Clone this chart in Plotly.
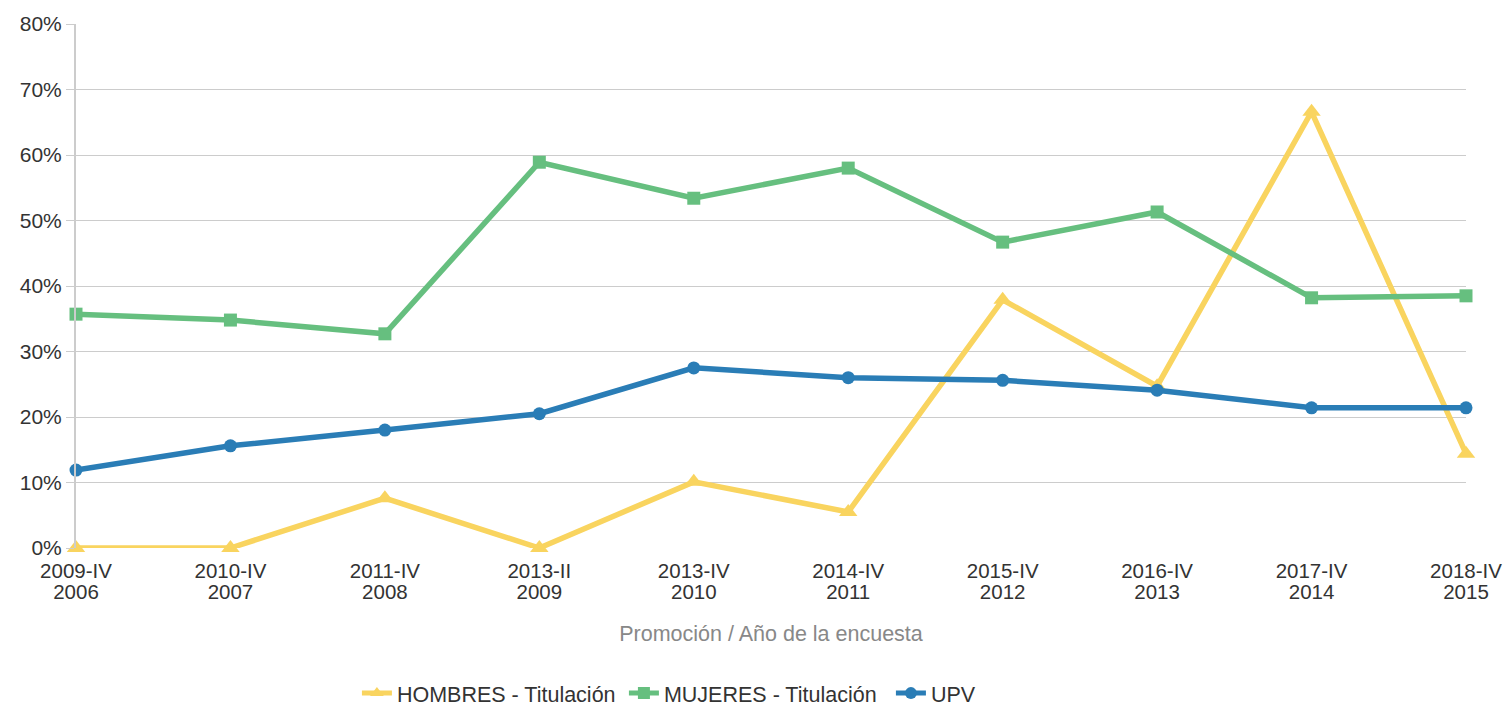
import plotly.graph_objects as go

periods = ["2009-IV", "2010-IV", "2011-IV", "2013-II", "2013-IV",
           "2014-IV", "2015-IV", "2016-IV", "2017-IV", "2018-IV"]
years = ["2006", "2007", "2008", "2009", "2010", "2011", "2012", "2013", "2014", "2015"]
hombres = [0.0, 0.0, 7.6, 0.0, 10.1, 5.5, 37.9, 24.7, 66.6, 14.4]
mujeres = [35.7, 34.8, 32.7, 58.9, 53.4, 58.0, 46.7, 51.3, 38.2, 38.5]
upv = [11.9, 15.6, 18.0, 20.5, 27.5, 26.0, 25.6, 24.1, 21.4, 21.4]

font_family = "Liberation Sans, Arial, sans-serif"
x_idx = list(range(len(periods)))
xr = [0, len(periods) - 1]
FS = 21.5
XFS = 20.5

fig = go.Figure()
fig.add_trace(go.Scatter(x=x_idx, y=hombres, name="HOMBRES - Titulación", mode="lines+markers",
                         line=dict(color="#F9D45F", width=5.5),
                         marker=dict(symbol="triangle-up", size=16, color="#F9D45F"),
                         cliponaxis=False))
fig.add_trace(go.Scatter(x=x_idx, y=mujeres, name="MUJERES - Titulación", mode="lines+markers",
                         line=dict(color="#66BF7F", width=5.5),
                         marker=dict(symbol="square", size=13, color="#66BF7F"),
                         cliponaxis=False))
fig.add_trace(go.Scatter(x=x_idx, y=upv, name="UPV", mode="lines+markers",
                         line=dict(color="#2A7DB6", width=5.5),
                         marker=dict(symbol="circle", size=13, color="#2A7DB6"),
                         cliponaxis=False))
# invisible helper trace so the second (year) label axis is drawn
fig.add_trace(go.Scatter(x=x_idx, y=upv, xaxis="x2", mode="none", showlegend=False,
                         hoverinfo="skip"))

fig.update_layout(
    width=1504, height=708,
    margin=dict(l=76, r=38, t=24, b=160, autoexpand=False),
    paper_bgcolor="white", plot_bgcolor="white",
    font=dict(family=font_family, size=FS, color="#333333"),
    showlegend=True,
    legend=dict(orientation="h", x=0.2021, xanchor="left", y=-0.277, yanchor="middle",
                font=dict(size=FS, color="#333333"), itemsizing="constant",
                itemwidth=30, entrywidth=222, entrywidthmode="pixels"),
    xaxis=dict(
        tickmode="array", tickvals=x_idx, ticktext=periods,
        range=xr,
        showgrid=False, zeroline=False, showline=False,
        ticks="", tickfont=dict(size=XFS, color="#333333"),
        ticklabelstandoff=8,
        automargin=False,
        title=dict(text="Promoción / Año de la encuesta", font=dict(size=FS, color="#888888"),
                   standoff=45),
    ),
    xaxis2=dict(
        overlaying="x", side="bottom", matches="x",
        tickmode="array", tickvals=x_idx, ticktext=years,
        range=xr,
        showgrid=False, zeroline=False, showline=False,
        ticks="", tickfont=dict(size=XFS, color="#333333"),
        ticklabelstandoff=29,
        automargin=False,
    ),
    yaxis=dict(
        range=[0, 80], dtick=10, ticksuffix="%",
        showgrid=True, gridcolor="#CCCCCC", gridwidth=1,
        zeroline=False, showline=True, linecolor="#CCCCCC", linewidth=2,
        ticks="outside", ticklen=8, tickcolor="#CCCCCC",
        tickfont=dict(size=21, color="#333333"),
        automargin=False,
    ),
)

fig.write_html("out.html", config={"displayModeBar": False},
               post_script="document.body.style.margin='0';document.body.style.overflow='hidden';")
